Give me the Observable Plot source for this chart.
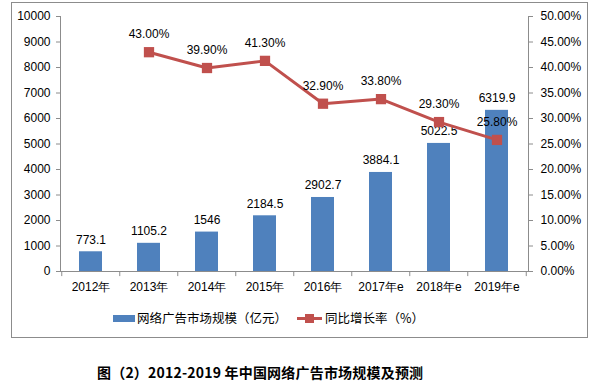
<!DOCTYPE html>
<html><head><meta charset="utf-8">
<script src="https://cdn.jsdelivr.net/npm/d3@7"></script>
<script src="https://cdn.jsdelivr.net/npm/@observablehq/plot@0.6"></script>
<style>
body{margin:0;background:#fff;font-family:"Liberation Sans",Arial,sans-serif;width:602px;height:387px;position:relative;overflow:hidden}
#frame{position:absolute;left:11px;top:2px;width:577px;height:336px;border:1px solid #8c8c8c;box-sizing:border-box}
#chart{position:absolute;left:0;top:0}
.lg{position:absolute;top:310px;font-size:12.5px;color:#000;font-family:"Noto Sans CJK SC",sans-serif;line-height:16px;display:flex;align-items:center}
.sw{display:inline-block;width:22px;height:7px;background:#4F81BD;margin-right:2px}
.ln{position:relative;display:inline-block;width:25px;height:10px;margin-right:3px}
.ln:before{content:"";position:absolute;left:0;right:0;top:4px;height:3px;background:#C0504D}
.ln:after{content:"";position:absolute;left:8px;top:1px;width:9px;height:9px;background:#C0504D}
#title{position:absolute;top:362px;left:97px;font-family:"Noto Sans CJK SC",sans-serif;font-weight:bold;font-size:14px;letter-spacing:0.2px;color:#000;white-space:nowrap}
</style></head>
<body>
<div id="frame"></div>
<div id="chart"></div>
<div class="lg" style="left:113px"><span class="sw"></span>网络广告市场规模（亿元）</div>
<div class="lg" style="left:297px"><span class="ln"></span>同比增长率（%）</div>
<div id="title">图（2）2012-2019 年中国网络广告市场规模及预测</div>
<script>
const years = ["2012年","2013年","2014年","2015年","2016年","2017年e","2018年e","2019年e"];
const marketSize = [773.1, 1105.2, 1546, 2184.5, 2902.7, 3884.1, 5022.5, 6319.9];
const growthPct = [null, 43.0, 39.9, 41.3, 32.9, 33.8, 29.3, 25.8];
const leftTicks = [0,1000,2000,3000,4000,5000,6000,7000,8000,9000,10000];
const rightTicks = [0,5,10,15,20,25,30,35,40,45,50];
const ratio = 200; // 50% on right axis aligns with 10000 on left

const bars = years.map((y,i)=>({year:y, v:marketSize[i]}));
const pts = years.map((y,i)=>({year:y, p:growthPct[i]})).filter(d=>d.p!=null);
const step = 58.5;

const chart = Plot.plot({
  width: 602, height: 300,
  marginLeft: 60, marginRight: 74, marginTop: 16, marginBottom: 29,
  style: {fontFamily: "Liberation Sans, Arial, sans-serif", fontSize: "12px", color: "#000", background: "transparent"},
  x: {domain: years, paddingInner: 0.6, paddingOuter: 0.3},
  y: {domain: [0, 10000]},
  marks: [
    Plot.barY(bars, {x: "year", y: "v", fill: "#4F81BD"}),
    Plot.text(bars, {x: "year", y: "v", text: d => String(d.v), dy: -12, fontSize: 12, fill: "#000"}),
    Plot.line(pts, {x: "year", y: d => d.p*ratio, stroke: "#C0504D", strokeWidth: 3}),
    Plot.dot(pts, {x: "year", y: d => d.p*ratio, symbol: "square", r: 5.8, fill: "#C0504D", stroke: "none"}),
    Plot.text(pts, {x: "year", y: d => d.p*ratio, text: d => d.p.toFixed(2)+"%", dy: -18, fontSize: 12, fill: "#000"}),
    Plot.ruleY([0], {stroke: "#8c8c8c"}),
    Plot.ruleX(years, {x: d => d, y1: 0, y2: -200, dx: -step/2, stroke: "#8c8c8c"}),
    Plot.ruleX([years[years.length-1]], {x: d => d, y1: 0, y2: -200, dx: step/2, stroke: "#8c8c8c"}),
    Plot.frame({anchor: "left", stroke: "#8c8c8c"}),
    Plot.frame({anchor: "right", stroke: "#8c8c8c"}),
    Plot.axisY(leftTicks, {anchor: "left", label: null, tickSize: 4, tickPadding: 6, stroke: "#8c8c8c", tickFormat: d => String(d)}),
    Plot.axisY(rightTicks.map(t => t*ratio), {anchor: "right", label: null, tickSize: 4, tickPadding: 8, stroke: "#8c8c8c", tickFormat: d => (d/ratio).toFixed(2)+"%"}),
    Plot.axisX({label: null, tickSize: 0, tickPadding: 11})
  ]
});
document.getElementById("chart").append(chart);
</script>
</body></html>
